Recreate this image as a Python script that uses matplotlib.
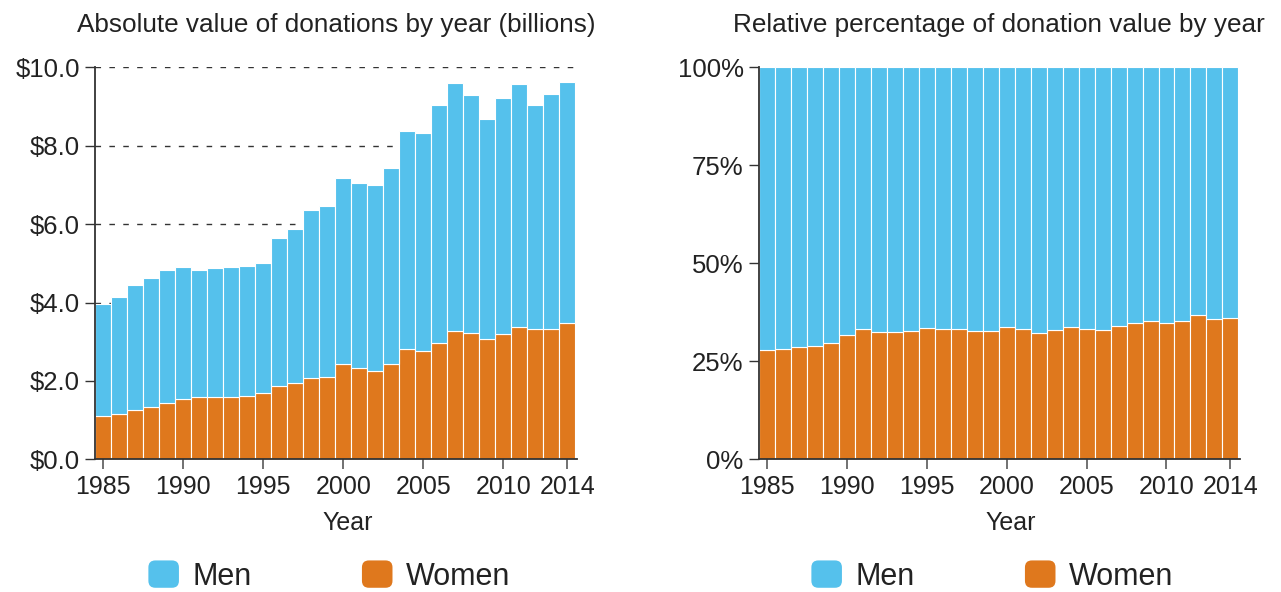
import matplotlib
matplotlib.use("Agg")
import matplotlib.pyplot as plt
from matplotlib.patches import Patch, FancyBboxPatch
from matplotlib.legend_handler import HandlerBase
from matplotlib.ticker import FuncFormatter

plt.rcParams['font.family'] = ['Liberation Sans', 'DejaVu Sans']

years = list(range(1985, 2015))
women = [1.10, 1.16, 1.27, 1.33, 1.43, 1.55, 1.60, 1.59, 1.60, 1.61,
         1.68, 1.88, 1.95, 2.08, 2.11, 2.43, 2.34, 2.26, 2.44, 2.82,
         2.76, 2.97, 3.28, 3.22, 3.06, 3.20, 3.37, 3.32, 3.33, 3.47]
total = [3.95, 4.13, 4.45, 4.62, 4.82, 4.90, 4.82, 4.88, 4.91, 4.92,
         5.02, 5.64, 5.87, 6.36, 6.45, 7.18, 7.04, 7.00, 7.42, 8.37,
         8.32, 9.03, 9.61, 9.29, 8.68, 9.22, 9.57, 9.05, 9.31, 9.62]
men = [t - w for t, w in zip(total, women)]
women_pct = [100 * w / t for w, t in zip(women, total)]
men_pct = [100 - p for p in women_pct]

xticks = [1985, 1990, 1995, 2000, 2005, 2010, 2014]
left_yticks = [0, 2, 4, 6, 8, 10]
right_yticks = [0, 25, 50, 75, 100]

C_MEN = '#55C1EC'
C_WOMEN = '#DF781D'
TXT = '#222222'

W, H = 1281, 592
fig = plt.figure(figsize=(W / 100, H / 100), dpi=100)


def px_axes(x0, x1, ytop, ybot):
    return fig.add_axes([x0 / W, 1 - ybot / H, (x1 - x0) / W, (ybot - ytop) / H])


axL = px_axes(95, 577, 67.3, 459.3)
axR = px_axes(759, 1240, 67.3, 459.3)


def style(ax):
    ax.set_axisbelow(True)
    ax.yaxis.grid(True, linestyle=(0, (4, 6)), color='#333333', lw=1)
    for s in ['top', 'right']:
        ax.spines[s].set_visible(False)
    for s in ['left', 'bottom']:
        ax.spines[s].set_color('#333333')
        ax.spines[s].set_linewidth(1.3)
    ax.set_xlim(1984.5, 2014.6)
    ax.set_xticks(xticks)
    ax.tick_params(axis='x', length=7, width=1.3, color='#666666', labelsize=18,
                   labelcolor=TXT, pad=4)
    ax.tick_params(axis='y', length=7, width=1.0, color='#333333', labelsize=18.5,
                   labelcolor=TXT, pad=4)


# Left chart
axL.bar(years, women, width=1.0, color=C_WOMEN, edgecolor='white', linewidth=0.8)
axL.bar(years, men, bottom=women, width=1.0, color=C_MEN, edgecolor='white', linewidth=0.8)
style(axL)
axL.set_ylim(0, 10)
axL.set_yticks(left_yticks)
axL.yaxis.set_major_formatter(FuncFormatter(lambda v, p: f"${v:.1f}"))

# Right chart
axR.bar(years, women_pct, width=1.0, color=C_WOMEN, edgecolor='white', linewidth=0.8)
axR.bar(years, men_pct, bottom=women_pct, width=1.0, color=C_MEN, edgecolor='white', linewidth=0.8)
style(axR)
axR.set_ylim(0, 100)
axR.set_yticks(right_yticks)
axR.yaxis.set_major_formatter(FuncFormatter(lambda v, p: f"{v:.0f}%"))

# Titles and axis labels
fig.text(336.5 / W, 1 - 25 / H, "Absolute value of donations by year (billions)",
         ha='center', va='center', fontsize=18.8, color=TXT)
fig.text(999 / W, 1 - 25 / H, "Relative percentage of donation value by year",
         ha='center', va='center', fontsize=18.8, color=TXT)
fig.text(348 / W, 1 - 523 / H, "Year", ha='center', va='center', fontsize=18, color=TXT)
fig.text(1011 / W, 1 - 523 / H, "Year", ha='center', va='center', fontsize=18, color=TXT)


class RoundHandler(HandlerBase):
    def create_artists(self, legend, orig_handle, xdescent, ydescent, width, height,
                       fontsize, trans):
        p = FancyBboxPatch((-xdescent, -ydescent), width, height,
                           boxstyle="round,pad=0,rounding_size=5",
                           fc=orig_handle.get_facecolor(), ec='none', transform=trans)
        return [p]


handles = [Patch(color=C_MEN, label='Men'), Patch(color=C_WOMEN, label='Women')]
for cx in (329.5 / W, 992.5 / W):
    fig.legend(handles=handles, loc='center', bbox_to_anchor=(cx, 1 - 576 / H),
               ncol=2, frameon=False, fontsize=22, handlelength=1.0, handleheight=1.0,
               handletextpad=0.45, columnspacing=3.6, borderpad=0, borderaxespad=0,
               handler_map={Patch: RoundHandler()}, labelcolor=TXT)

fig.savefig('out.png', dpi=100)
